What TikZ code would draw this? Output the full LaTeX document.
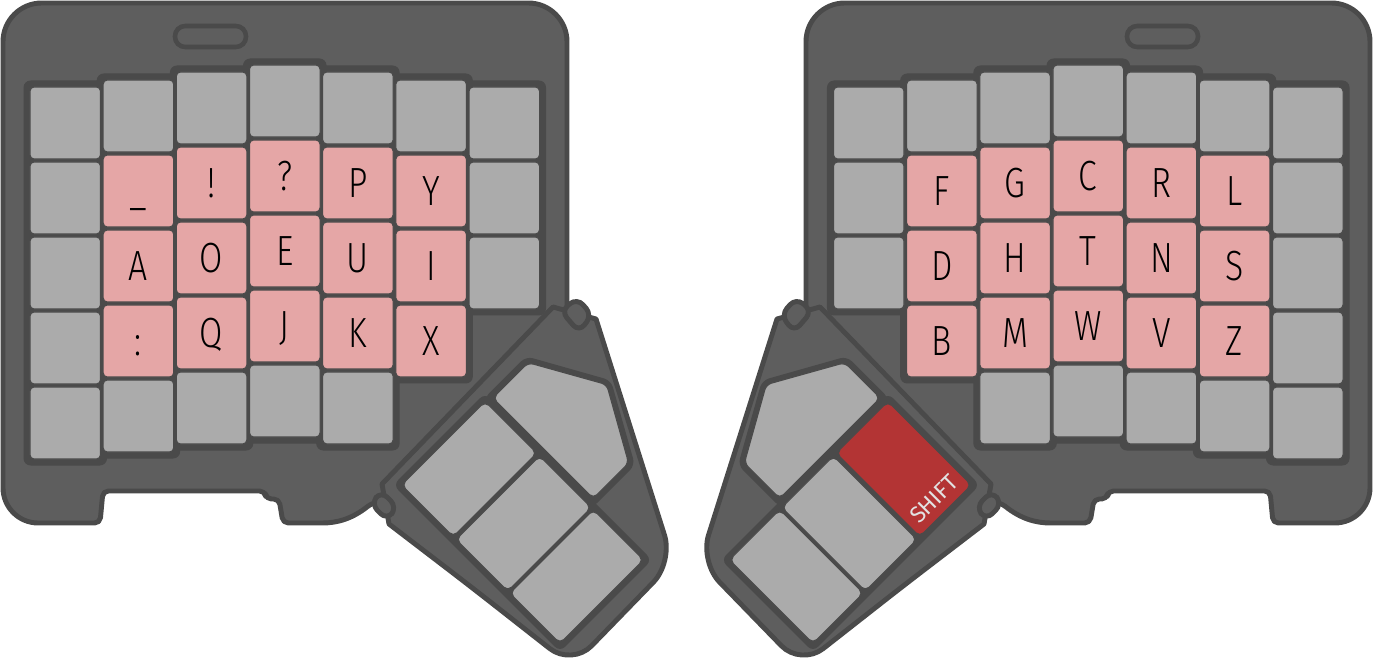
\documentclass[tikz,border=0pt]{standalone}
\usepackage{fontspec}
\setsansfont{Fira Sans}
\newfontfamily\keyfont{Fira Sans Light}[FakeStretch=0.8]

\definecolor{bodygray}{HTML}{5E5E5E}
\definecolor{plategray}{HTML}{4A4A4A}
\definecolor{keygray}{HTML}{ABABAB}
\definecolor{keypink}{HTML}{E5A6A6}
\definecolor{keyred}{HTML}{B33434}
\definecolor{shifttext}{HTML}{E2E2E2}

\tikzset{
  body/.style={fill=bodygray, draw=plategray, line width=1.4pt, line join=round},
  plate/.style={fill=plategray, rounded corners=2pt},
  key/.style={draw=plategray, line width=0.3pt, rounded corners=1.2pt, minimum width=0.705cm, minimum height=0.72cm, inner sep=0pt},
  tkey/.style={draw=plategray, line width=0.3pt, rounded corners=1.5pt},
  lbl/.style={font=\keyfont\fontsize{12}{12}\selectfont, text height=8.3pt, text depth=0pt, inner sep=0pt}
}

% one half of the board, drawn as the left one; #1 = name prefix, #2 = fill of the long thumb key
\newcommand{\keyhalf}[2]{%
  % case
  \draw[body] (3,250) [rounded corners=11pt] -- (3,3) -- (567,3) -- (567,150)
    [rounded corners=1.5pt] -- (567,340) -- (400,500) -- (372,503)
    .. controls (352,519) and (337,523) .. (317,523) -- (283,523) -- (279,499)
    -- (266,499) -- (265,491) -- (103,491) -- (100,523) -- (60,523)
    [rounded corners=10pt] -- (3,523) -- cycle;
  % slot
  \draw[plategray, line width=1.3pt, rounded corners=2.9pt] (175,26) rectangle (246,47);
  % key plate
  \foreach \col/\ctop/\nr in {0/87/4,1/80/4,2/72/4,3/65/4,4/72/4,5/80/3,6/87/2}
    \fill[plate] ({23.5+73.17*\col},{\ctop-6.5}) rectangle ++(83.5,{75*\nr+85});
  % keys
  \foreach \col/\ctop/\nr in {0/87/4,1/80/4,2/72/4,3/65/4,4/72/4,5/80/3,6/87/2}
    \foreach \row in {0,...,\nr}{
      \pgfmathtruncatemacro\pk{(\col>0)&&(\col<6)&&(\row>0)&&(\row<4)}
      \ifnum\pk=1 \def\kc{keypink}\else\def\kc{keygray}\fi
      \node[key, fill=\kc] (#1-\col-\row) at ({65.25+73.17*\col},{\ctop+36+75*\row}) {};
    }
  % thumb case
  \draw[body] (470,586) -- (389,524) -- (382,484) -- (553,307) -- (596,319) -- (628,420)
    [rounded corners=8pt] -- (673,562) -- (572,666) -- cycle;
  \draw[body, rounded corners=2.5pt] (561,311) -- (577,298) -- (592,315) -- (579,332) -- cycle;
  \draw[body, rounded corners=2.5pt] (381,491) -- (397,507) -- (387,520) -- (371,504) -- cycle;
  % thumb keys
  \begin{scope}[shift={(401.7,485)}, x={(0.00707cm,-0.00707cm)}, y={(0.00707cm,0.00707cm)}]
    \fill[plate] (-6,-6) -- (230,-6) -- (230,124) -- (-6,124) -- cycle;
    \fill[plate] (-3,119) -- (151,119) -- (151,179) -- (74,222) -- (-3,179) -- cycle;
    \draw[tkey, fill=keygray] (3,126) -- (145,126) -- (145,176) -- (74,216) -- (3,176) -- cycle;
    \draw[tkey, fill=#2] (0,0) -- (73,0) -- (73,118) -- (0,118) -- cycle;
    \draw[tkey, fill=keygray] (77,0) -- (150,0) -- (150,118) -- (77,118) -- cycle;
    \draw[tkey, fill=keygray] (153,0) -- (224,0) -- (224,118) -- (153,118) -- cycle;
  \end{scope}
}

\begin{document}
\begin{tikzpicture}[x=0.01cm, y=-0.01cm]
  \useasboundingbox (0,0) rectangle (1373,661);

  \keyhalf{L}{keygray}
  \begin{scope}[shift={(1373,0)}, xscale=-1]
    \keyhalf{R}{keyred}
  \end{scope}

  % letters
  \foreach \col/\row/\txt in {1/1/\_, 2/1/!, 3/1/?, 4/1/P, 5/1/Y, 1/2/A, 2/2/O, 3/2/E,
      4/2/U, 5/2/I, 1/3/:, 2/3/Q, 3/3/J, 4/3/K, 5/3/X}
    \node[lbl] (t-L-\col-\row) at (L-\col-\row) {\txt};
  \foreach \col/\row/\txt in {5/1/F, 4/1/G, 3/1/C, 2/1/R, 1/1/L, 5/2/D, 4/2/H, 3/2/T,
      2/2/N, 1/2/S, 5/3/B, 4/3/M, 3/3/W, 2/3/V, 1/3/Z}
    \node[lbl] (t-R-\col-\row) at (R-\col-\row) {\txt};

  \node[font=\sffamily\fontsize{6.5}{7}\selectfont, text=shifttext, rotate=45, inner sep=0pt] (shiftlbl) at (934,499) {SHIFT};
\end{tikzpicture}
\end{document}
